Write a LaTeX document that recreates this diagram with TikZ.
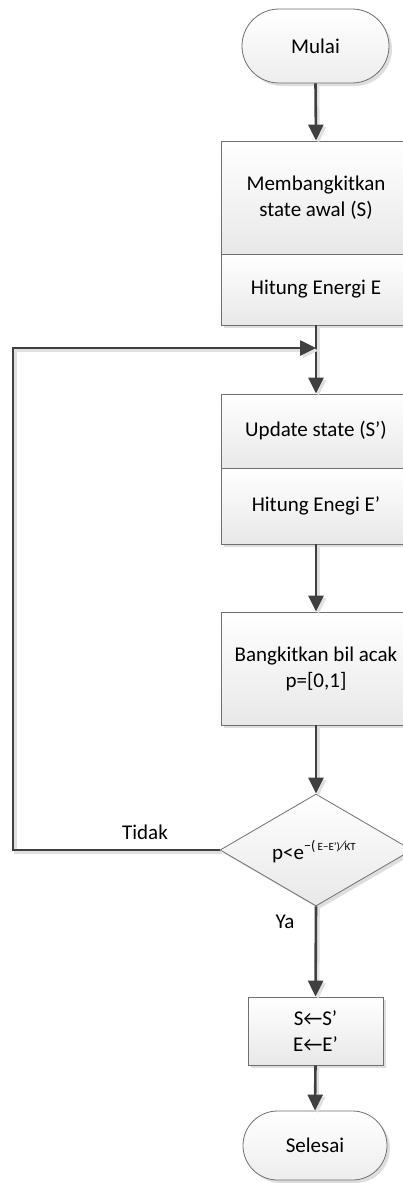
\documentclass[tikz,border=0pt]{standalone}
\usepackage{fontspec}
\setmainfont{Carlito}
\usetikzlibrary{arrows.meta,shapes.misc,shapes.geometric,shadows}
\definecolor{linec}{HTML}{404040}
\definecolor{edgec}{HTML}{707070}
\tikzset{
  box/.style={draw=edgec, line width=0.8pt, rectangle, top color=white, bottom color=black!9,
    minimum width=190pt, inner sep=0pt, align=center, font=\fontsize{21}{26}\selectfont,
    drop shadow={shadow xshift=3pt, shadow yshift=-3pt, fill=black!13, opacity=1}},
  term/.style={draw=edgec, line width=0.8pt, rounded rectangle, top color=white, bottom color=black!7,
    inner sep=0pt, font=\fontsize{21}{26}\selectfont,
    drop shadow={shadow xshift=3pt, shadow yshift=-3pt, fill=black!13, opacity=1}},
  decide/.style={draw=edgec, line width=0.8pt, diamond, aspect=1.714, inner sep=0pt,
    top color=white, bottom color=black!9, minimum width=192pt, minimum height=112pt,
    drop shadow={shadow xshift=3pt, shadow yshift=-3pt, fill=black!13, opacity=1}},
  flow/.style={draw=linec, line width=2.6pt, -{Triangle[width=15pt,length=16pt]},
    preaction={draw=black!12, line width=2.6pt, transform canvas={shift={(2.5pt,-2.5pt)}}}},
  lbl/.style={font=\fontsize{21}{26}\selectfont, inner sep=0pt}
}
\begin{document}
\begin{tikzpicture}[x=1pt,y=-1pt]
\useasboundingbox (0,0) rectangle (403,1183);
\fill[white] (0,0) rectangle (403,1183);

% start / end terminals
\node[term, minimum width=147pt, minimum height=74pt] (start) at (315.5,46) {Mulai};
\node[term, minimum width=144pt, minimum height=69pt] (stop) at (315,1145.5) {Selesai};

% process blocks
\node[box, minimum height=113pt] (init) at (316,197.5) {Membangkitkan\\state awal (S)};
\node[box, minimum height=71pt] (energy) at (316,289.5) {Hitung Energi E};
\node[box, minimum height=74pt] (update) at (316,431) {Update state (S’)};
\node[box, minimum height=76pt] (energy2) at (316,506) {Hitung Enegi E’};
\node[box, minimum height=113pt] (rand) at (316,668.5) {Bangkitkan bil acak\\p=[0,1]};

% acceptance test
\node[decide] (test) at (316,850) {};
\node[lbl] (cond) at (314,852) {p<e\raisebox{9pt}{\fontsize{14}{14}\selectfont −(\,\fontsize{11}{11}\selectfont E−E')\fontsize{14}{14}\selectfont ⁄\fontsize{11}{11}\selectfont KT}};

% accept step
\node[box, minimum width=135pt, minimum height=68pt] (accept) at (315.5,1031) {S←S’\\E←E’};

% joining point of the loop
\coordinate (join) at (316,348);
\coordinate (loopx) at (13,0);

% connectors
\draw[flow] (start.south) -- (init.north);
\draw[flow] (energy.south) -- (update.north);
\draw[flow] (energy2.south) -- (rand.north);
\draw[flow] (rand.south) -- (test.north);
\draw[flow] (test.south) -- (accept.north);
\draw[flow] (accept.south) -- (stop.north);
\draw[flow] (test.west) -- (test.west -| loopx) |- (join);

% branch labels
\node[lbl] (no) at (145,832) {Tidak};
\node[lbl] (yes) at (285,922) {Ya};
\end{tikzpicture}
\end{document}
